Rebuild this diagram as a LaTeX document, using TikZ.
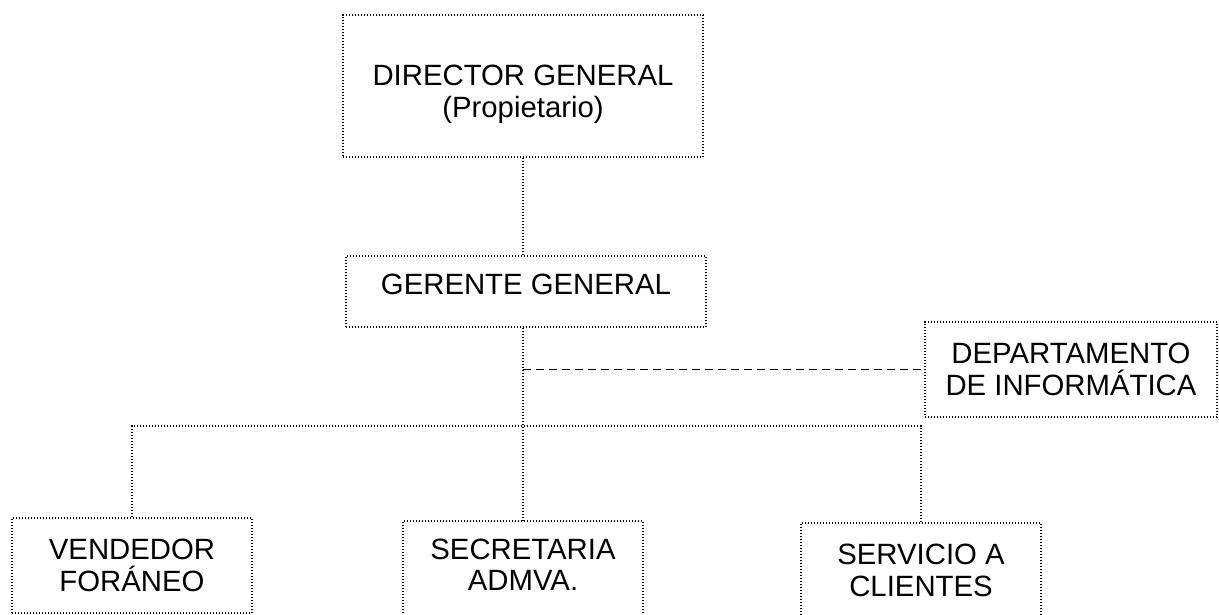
\documentclass[tikz,border=0pt]{standalone}
\usepackage{fontspec}
\setmainfont{Liberation Sans}
\usepackage{tikz}
\newcommand*{\ancho}{1219}
\newcommand*{\alto}{614}

\tikzset{
	punteado/.style={line width=1.2pt, dash pattern=on 1pt off 1.25pt},
	guion/.style={line width=1.4pt, dash pattern=on 6pt off 3.75pt},
	puesto/.style={draw, punteado, align=center, inner sep=0pt,
		font=\fontsize{22}{23.5}\selectfont},
	chico/.style={puesto, minimum width=180pt, minimum height=71.25pt}
}

\begin{document}
\begin{tikzpicture}[x=0.75pt,y=-0.75pt]
	\useasboundingbox (0,0) rectangle (\ancho,\alto);
	\clip (0,0) rectangle (\ancho,\alto);
	
	\node[puesto, minimum width=270pt, minimum height=106.5pt] (dir) at (523,86) {\rule{0pt}{28pt}DIRECTOR GENERAL\\(Propietario)};
	\node[puesto, minimum width=270pt, minimum height=53.25pt] (ger) at (526,291.5) {GERENTE GENERAL\rule[-10.5pt]{0pt}{10.5pt}};
	\node[puesto, minimum width=219pt, minimum height=71.25pt] (dep) at (1071,369.5) {DEPARTAMENTO\\DE INFORMÁTICA};
	
	\node[chico] (ven) at (132,565.5) {VENDEDOR\\FORÁNEO};
	\node[chico] (sec) at (523,568.5) {SECRETARIA\\ADMVA.\rule[-6pt]{0pt}{6pt}};
	\node[chico] (ser) at (921,570.5) {SERVICIO A\\CLIENTES};
	
	\coordinate (bus) at (523,426);
	
	\draw[punteado] (dir.south) -- (dir.south |- ger.north);
	\draw[punteado] (ger.south -| sec.north) -- (sec.north);
	\draw[punteado] (ven.north) |- (bus -| ser.north) -- (ser.north);
	
	\draw[guion] (sec.north |- dep.west) -- (dep.west);
\end{tikzpicture}
\end{document}
